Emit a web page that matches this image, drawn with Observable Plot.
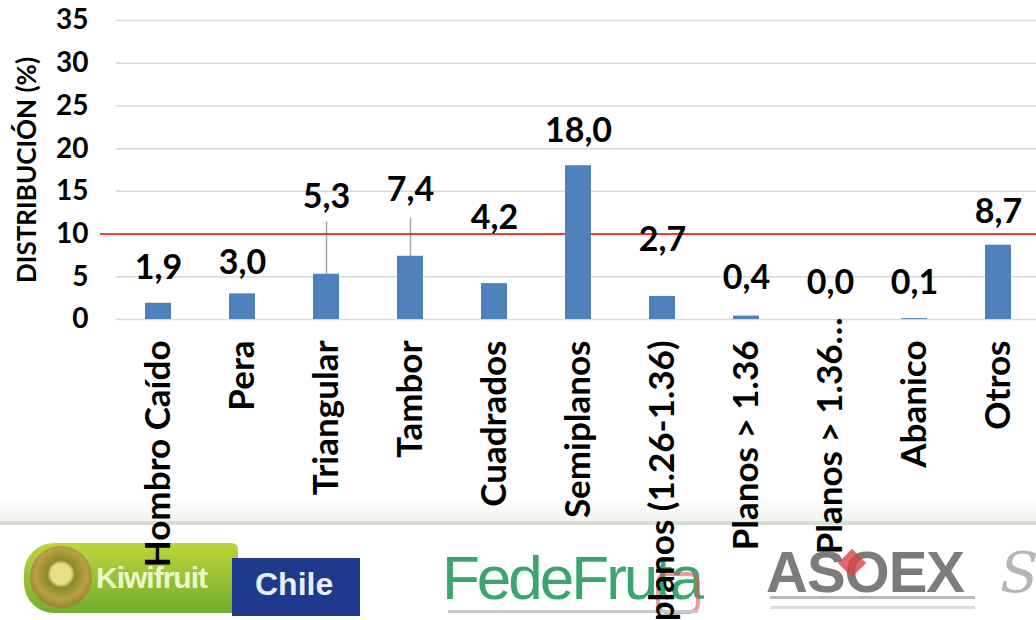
<!DOCTYPE html>
<html>
<head>
<meta charset="utf-8">
<script src="https://cdn.jsdelivr.net/npm/d3@7"></script>
<script src="https://cdn.jsdelivr.net/npm/@observablehq/plot@0.6"></script>
<style>
  html, body { margin: 0; padding: 0; background: #fff; }
  #wrap { position: relative; width: 1036px; height: 620px; overflow: hidden; font-family: Lato, "Open Sans", sans-serif; }
  #logos { position: absolute; left: 0; top: 0; width: 1036px; height: 620px; }
  #chart { position: absolute; left: 0; top: 0; }
  #chart svg { background: transparent !important; }
  .abs { position: absolute; }
</style>
</head>
<body>
<div id="wrap">
  <div id="logos">
    <div class="abs" style="left:0;top:498px;width:1036px;height:24px;background:linear-gradient(#ffffff,#f1f3ec);"></div>
    <div class="abs" style="left:0;top:521px;width:1036px;height:4px;background:#d9dfcf;"></div>
    <!-- Kiwifruit Chile -->
    <div class="abs" style="left:24px;top:543px;width:214px;height:70px;border-radius:30px 6px 6px 30px;background:linear-gradient(#bcd63a,#74ad2f);"></div>
    <div class="abs" style="left:30px;top:546px;width:62px;height:62px;border-radius:50%;background:radial-gradient(circle at 50% 45%,#e6e08a 0 22%,#8a8a2a 30%,#b9a043 55%,#6b5a22 100%);"></div>
    <div class="abs" style="left:96px;top:561px;color:#eef7c8;font:bold 30px 'Liberation Sans Narrow','Liberation Sans',sans-serif;letter-spacing:-1px;">Kiwifruit</div>
    <div class="abs" style="left:232px;top:558px;width:128px;height:58px;background:#1e3a8c;"></div>
    <div class="abs" style="left:255px;top:566px;color:#e8eefc;font:bold 32px 'Liberation Sans',sans-serif;">Chile</div>
    <!-- FedeFruta -->
    <div class="abs" style="left:442px;top:542px;color:#3aa56c;font:300 62px 'Liberation Sans Narrow','Liberation Sans',sans-serif;letter-spacing:-3px;">FedeFruta</div>
    <div class="abs" style="left:656px;top:572px;width:36px;height:34px;border:4px solid #e05a5a;border-radius:10px;opacity:0.6;"></div>
    <div class="abs" style="left:448px;top:610px;width:250px;height:3px;background:#c9c9c9;"></div>
    <!-- ASOEX -->
    <div class="abs" style="left:766px;top:538px;color:#7c7c7c;font:bold 58px 'Liberation Sans',sans-serif;letter-spacing:-1px;">ASOEX</div>
    <div class="abs" style="left:842px;top:553px;width:20px;height:20px;background:#d9434a;transform:rotate(45deg);opacity:0.8;"></div>
    <div class="abs" style="left:770px;top:596px;width:205px;height:3px;background:#b9b9b9;"></div>
    <div class="abs" style="left:770px;top:606px;width:205px;height:3px;background:#dcdcdc;"></div>
    <div class="abs" style="left:1000px;top:540px;color:#b5b5b5;font:italic 56px 'DejaVu Serif',serif;">S</div>
  </div>
  <div id="chart"></div>
</div>
<script>
// ---- data ----
const categories = ["Hombro Caído", "Pera", "Triangular", "Tambor", "Cuadrados", "Semiplanos",
  "Semiplanos (1.26-1.36)", "Planos > 1.36", "Planos > 1.36…", "Abanico", "Otros"];
const values = [1.9, 3.0, 5.3, 7.4, 4.2, 18.0, 2.7, 0.4, 0.0, 0.1, 8.7];
const yTicks = [0, 5, 10, 15, 20, 25, 30, 35];
const threshold = [10];
const yTitle = "DISTRIBUCIÓN (%)";
const truncatedCategory = "Planos > 1.36…";

// ---- label layout (data units, where each value label was placed) ----
const labelAt = [6.0, 6.6, 14.3, 15.1, 11.9, 22.1, 9.3, 4.9, 4.3, 4.3, 12.6];
const leaderEnd = [null, null, 11.4, 11.8, null, null, null, null, null, null, null];

const rows = categories.map((c, i) => ({category: c, value: values[i], labelAt: labelAt[i], leaderEnd: leaderEnd[i]}));
const fmt = v => v.toFixed(1).replace(".", ",");
const xAxisStyle = {tickRotate: -90, tickSize: 0, fontSize: 35, fontWeight: "bold", label: null};

const chart = Plot.plot({
  width: 1036,
  height: 620,
  marginTop: 20,
  marginBottom: 301,
  marginLeft: 116,
  marginRight: 0,
  style: {fontFamily: "Lato, 'Open Sans', sans-serif", color: "#000", background: "transparent", overflow: "hidden"},
  x: {type: "band", domain: categories, range: [116, 1040], paddingInner: 0.69, paddingOuter: 0.345, align: 0.5},
  y: {domain: [0, 35]},
  marks: [
    Plot.ruleY(yTicks, {stroke: "#d9d9d9", strokeWidth: 1.5}),
    Plot.ruleX(rows.filter(d => d.leaderEnd != null), {x: "category", y1: "value", y2: "leaderEnd", stroke: "#a6a6a6", strokeWidth: 1.5}),
    Plot.ruleY(threshold, {stroke: "#ff0000", strokeWidth: 1.5, insetLeft: -16}),
    Plot.barY(rows, {x: "category", y: "value", fill: "#4f81bd"}),
    Plot.text(rows, {x: "category", y: "labelAt", text: d => fmt(d.value), fontSize: 34, fontWeight: "bold", fill: "#000"}),
    Plot.axisY({ticks: yTicks, tickSize: 0, tickPadding: 28, fontSize: 28, fontWeight: "bold", label: null}),
    Plot.text([yTitle], {text: d => d, frameAnchor: "left", textAnchor: "middle", lineAnchor: "middle", rotate: -90, dx: -89, fontSize: 26, fontWeight: "bold", fill: "#000"}),
    Plot.axisX({...xAxisStyle, ticks: categories.filter(c => c !== truncatedCategory), tickPadding: 21}),
    Plot.axisX({...xAxisStyle, ticks: [truncatedCategory], tickPadding: -2})
  ]
});
document.getElementById("chart").appendChild(chart);
</script>
</body>
</html>
